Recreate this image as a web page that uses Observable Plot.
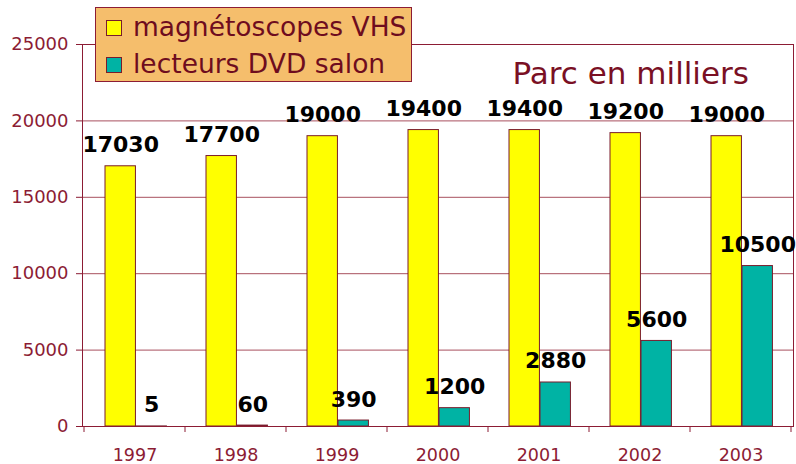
<!DOCTYPE html>
<html><head><meta charset="utf-8">
<script src="https://cdn.jsdelivr.net/npm/d3@7"></script>
<script src="https://cdn.jsdelivr.net/npm/@observablehq/plot@0.6"></script>
<style>
body{margin:0;background:#fff;}
#wrap{position:relative;width:796px;height:464px;font-family:"DejaVu Sans",Verdana,sans-serif;}
#legend{position:absolute;left:95px;top:7px;width:315px;height:73px;background:#f5be6c;border:1px solid #8c1c34;box-sizing:content-box;}
.sw{position:absolute;left:10px;width:14px;height:14px;border:1px solid #7a1c2c;}
.lt{position:absolute;left:37px;font-size:26.5px;line-height:26px;color:#6e0c1e;white-space:nowrap;}
</style>
</head><body>
<div id="wrap"></div>
<script>
const years = ["1997","1998","1999","2000","2001","2002","2003"];
const vhs = [17030, 17700, 19000, 19400, 19400, 19200, 19000];
const dvd = [5, 60, 390, 1200, 2880, 5600, 10500];
const seriesNames = ["magnétoscopes VHS", "lecteurs DVD salon"];
const seriesColors = ["#ffff00", "#00b3a4"];
const yTicks = [0, 5000, 10000, 15000, 20000, 25000];
const titleText = "Parc en milliers";

const dataV = years.map((y, i) => ({year: y, value: vhs[i]}));
const dataD = years.map((y, i) => ({year: y, value: dvd[i]}));

const W = 796, H = 464, mL = 82, mR = 3, mT = 44, mB = 38;
const band = (W - mL - mR) / years.length;
const padL = 21, barW = 31;
const insV = [padL, band - padL - barW];
const insD = [padL + barW, band - padL - 2 * barW];
const dxV = padL + barW / 2 - band / 2;
const dxD = padL + barW * 1.5 - band / 2;

const axisCol = "#8c1c34";
const gridCol = "#a8505e";

const chart = Plot.plot({
  width: W, height: H,
  marginLeft: mL, marginRight: mR, marginTop: mT, marginBottom: mB,
  style: {fontFamily: '"DejaVu Sans", Verdana, sans-serif', background: "#fff", overflow: "visible"},
  x: {domain: years, padding: 0, label: null},
  y: {domain: [0, 25000], label: null},
  marks: [
    Plot.ruleY(yTicks.slice(1), {stroke: gridCol, strokeWidth: 1}),
    Plot.barY(dataV, {x: "year", y: "value", fill: seriesColors[0], stroke: "#7a1c2c", strokeWidth: 1, insetLeft: insV[0], insetRight: insV[1]}),
    Plot.barY(dataD, {x: "year", y: "value", fill: seriesColors[1], stroke: "#7a1c2c", strokeWidth: 1, insetLeft: insD[0], insetRight: insD[1]}),
    Plot.frame({stroke: axisCol, strokeWidth: 1}),
    Plot.axisY({ticks: yTicks, tickSize: 6, tickPadding: 8, fontSize: 18, color: axisCol, stroke: axisCol, tickFormat: d => String(d)}),
    Plot.axisX({tickSize: 0, tickPadding: 22, fontSize: 17.5, color: axisCol}),
    Plot.text(dataV, {x: "year", y: "value", text: d => String(d.value), dx: dxV, dy: -14, lineAnchor: "bottom", fontSize: 22, fontWeight: "bold", fill: "#000"}),
    Plot.text(dataD, {x: "year", y: "value", text: d => String(d.value), dx: dxD, dy: -14, lineAnchor: "bottom", fontSize: 22, fontWeight: "bold", fill: "#000"}),
    Plot.text([titleText], {frameAnchor: "top-left", dx: 512 - mL, dy: 83 - mT, lineAnchor: "bottom", textAnchor: "start", fontSize: 31, fill: "#7a1024"})
  ]
});

document.getElementById("wrap").appendChild(chart);

// category boundary tick marks on the x axis, placed with the chart's own scales
const xs = chart.scale("x"), ys = chart.scale("y");
const y0 = ys.apply(0);
const svg = d3.select(chart);
const bounds = years.map(y => xs.apply(y)).concat([xs.apply(years[years.length - 1]) + xs.bandwidth]);
svg.append("g").selectAll("line").data(bounds).join("line")
  .attr("x1", d => d).attr("x2", d => d)
  .attr("y1", y0).attr("y2", y0 + 6)
  .attr("stroke", axisCol);

const legend = document.createElement("div");
legend.id = "legend";
seriesNames.forEach((name, i) => {
  const sw = document.createElement("div");
  sw.className = "sw";
  sw.style.top = (12 + i * 37) + "px";
  sw.style.background = seriesColors[i];
  legend.appendChild(sw);
  const t = document.createElement("div");
  t.className = "lt";
  t.style.top = (6 + i * 37) + "px";
  t.textContent = name;
  legend.appendChild(t);
});
document.getElementById("wrap").appendChild(legend);
</script>
</body></html>
